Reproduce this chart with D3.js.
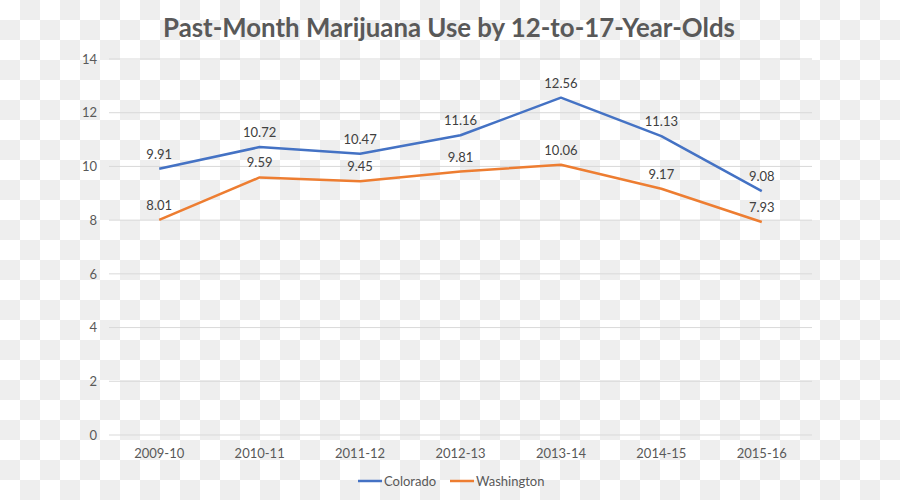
<!DOCTYPE html>
<html>
<head>
<meta charset="utf-8">
<script src="https://cdn.jsdelivr.net/npm/d3@7"></script>
<style>
  html, body { margin: 0; padding: 0; background: #fff; }
  svg { display: block; }
  text { font-family: Lato, "Open Sans", sans-serif; }
</style>
</head>
<body>
<svg id="chart" width="900" height="500"></svg>
<script>
const categories = ["2009-10", "2010-11", "2011-12", "2012-13", "2013-14", "2014-15", "2015-16"];
const colorado = [9.91, 10.72, 10.47, 11.16, 12.56, 11.13, 9.08];
const washington = [8.01, 9.59, 9.45, 9.81, 10.06, 9.17, 7.93];
const yTicks = [0, 2, 4, 6, 8, 10, 12, 14];
const seriesNames = ["Colorado", "Washington"];
const titleText = "Past-Month Marijuana Use by 12-to-17-Year-Olds";

const series = [
  { name: seriesNames[0], values: colorado, color: "#4472C4" },
  { name: seriesNames[1], values: washington, color: "#ED7D31" }
];

const svg = d3.select("#chart");
const W = 900, H = 500;

// checkerboard background
const defs = svg.append("defs");
const pat = defs.append("pattern").attr("id", "checker")
  .attr("width", 40).attr("height", 40).attr("patternUnits", "userSpaceOnUse");
pat.append("rect").attr("width", 40).attr("height", 40).attr("fill", "#ffffff");
pat.append("rect").attr("x", 20).attr("y", 0).attr("width", 20).attr("height", 20).attr("fill", "#eeeeee");
pat.append("rect").attr("x", 0).attr("y", 20).attr("width", 20).attr("height", 20).attr("fill", "#eeeeee");
svg.append("rect").attr("width", W).attr("height", H).attr("fill", "url(#checker)");

const plot = { left: 109, right: 812, top: 59, bottom: 435 };

const x = d3.scaleBand().domain(categories).range([plot.left, plot.right]);
const y = d3.scaleLinear().domain([0, 14]).range([plot.bottom, plot.top]);
const cx = c => x(c) + x.bandwidth() / 2;

// gridlines
svg.append("g").selectAll("line").data(yTicks).join("line")
  .attr("x1", plot.left).attr("x2", plot.right)
  .attr("y1", d => y(d)).attr("y2", d => y(d))
  .attr("stroke", "#d9d9d9").attr("stroke-width", 1);

// y-axis labels
const yAxis = d3.axisLeft(y).tickValues(yTicks).tickSize(0).tickPadding(12);
const gy = svg.append("g").attr("transform", `translate(${plot.left},0)`).call(yAxis);
gy.select(".domain").remove();
gy.selectAll("text").attr("fill", "#595959").style("font-size", "13px")
  .style("font-family", "Lato, 'Open Sans', sans-serif");

// x-axis labels
const xAxis = d3.axisBottom(x).tickSize(0).tickPadding(14);
const gx = svg.append("g").attr("transform", `translate(0,${plot.bottom})`).call(xAxis);
gx.select(".domain").remove();
gx.selectAll("text").attr("fill", "#595959").style("font-size", "13px")
  .style("font-family", "Lato, 'Open Sans', sans-serif");

// lines
const line = d3.line().x((d, i) => cx(categories[i])).y(d => y(d));
series.forEach(s => {
  svg.append("path").datum(s.values)
    .attr("d", line).attr("fill", "none")
    .attr("stroke", s.color).attr("stroke-width", 2.5)
    .attr("stroke-linejoin", "round");
});

// data labels
series.forEach(s => {
  svg.append("g").selectAll("text").data(s.values).join("text")
    .attr("x", (d, i) => cx(categories[i]))
    .attr("y", d => y(d) - 10)
    .attr("text-anchor", "middle")
    .attr("fill", "#404040")
    .style("font-size", "13px")
    .text(d => d.toFixed(2));
});

// title
const title = svg.append("text")
  .attr("x", 449).attr("y", 37)
  .attr("text-anchor", "middle")
  .attr("fill", "#595959")
  .style("font-size", "27px").style("font-weight", "bold")
  .text(titleText);
const tw = title.node().getComputedTextLength();
title.style("font-size", (27 * 572 / tw).toFixed(2) + "px");

// legend
const legendItems = [
  { name: seriesNames[0], color: series[0].color, x0: 358 },
  { name: seriesNames[1], color: series[1].color, x0: 450 }
];
const lg = svg.append("g");
legendItems.forEach(it => {
  lg.append("line").attr("x1", it.x0).attr("x2", it.x0 + 24)
    .attr("y1", 481).attr("y2", 481)
    .attr("stroke", it.color).attr("stroke-width", 2.5);
  lg.append("text").attr("x", it.x0 + 26).attr("y", 485.5)
    .attr("fill", "#595959").style("font-size", "13px").text(it.name);
});
</script>
</body>
</html>
